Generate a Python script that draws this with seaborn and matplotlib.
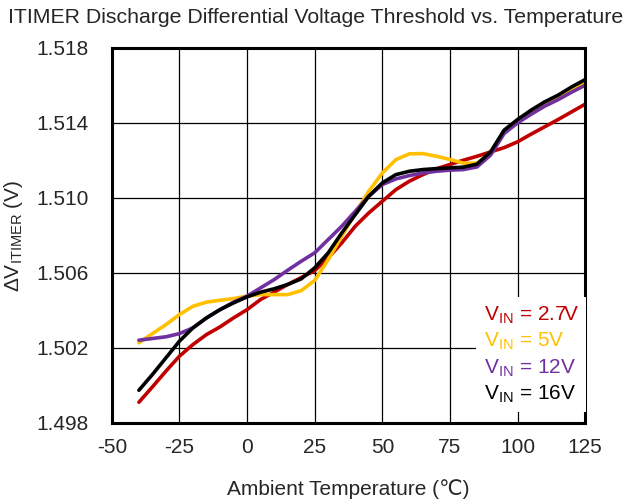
import matplotlib
matplotlib.use("Agg")
import matplotlib.pyplot as plt
import pandas as pd
import seaborn as sns

# Temperatures (°C)
temps = [-40, -35, -30, -25, -20, -15, -10, -5, 0, 5, 10, 15, 20, 25, 30, 35, 40,
         45, 50, 55, 60, 65, 70, 75, 80, 85, 90, 95, 100, 105, 110, 115, 120, 125]

v_2p7 = [1.49910, 1.49992, 1.50076, 1.50156, 1.50218, 1.50271, 1.50312, 1.50360,
         1.50404, 1.50458, 1.50497, 1.50538, 1.50575, 1.50612, 1.50680, 1.50760,
         1.50849, 1.50920, 1.50982, 1.51044, 1.51089, 1.51124, 1.51155, 1.51178,
         1.51201, 1.51222, 1.51245, 1.51268, 1.51299, 1.51340, 1.51379, 1.51418,
         1.51459, 1.51500]
v_5 = [1.50227, 1.50276, 1.50324, 1.50378, 1.50422, 1.50444, 1.50454, 1.50463,
       1.50476, 1.50484, 1.50484, 1.50484, 1.50505, 1.50560, 1.50671, 1.50796,
       1.50920, 1.51036, 1.51133, 1.51204, 1.51235, 1.51236, 1.51222, 1.51205,
       1.51185, 1.51185, 1.51236, 1.51357, 1.51414, 1.51459, 1.51503, 1.51539,
       1.51578, 1.51619]
v_12 = [1.50241, 1.50250, 1.50259, 1.50276, 1.50307, 1.50360, 1.50404, 1.50444,
        1.50476, 1.50520, 1.50564, 1.50614, 1.50662, 1.50707, 1.50778, 1.50849,
        1.50929, 1.51009, 1.51071, 1.51101, 1.51119, 1.51133, 1.51142, 1.51148,
        1.51151, 1.51165, 1.51228, 1.51343, 1.51400, 1.51446, 1.51489, 1.51524,
        1.51564, 1.51601]
v_16 = [1.49974, 1.50058, 1.50147, 1.50236, 1.50307, 1.50360, 1.50404, 1.50440,
        1.50472, 1.50497, 1.50515, 1.50538, 1.50568, 1.50627, 1.50707, 1.50813,
        1.50911, 1.51009, 1.51080, 1.51124, 1.51142, 1.51151, 1.51156, 1.51160,
        1.51164, 1.51180, 1.51245, 1.51361, 1.51418, 1.51468, 1.51512, 1.51548,
        1.51592, 1.51631]

series_names = ["2.7V", "5V", "12V", "16V"]
series_colors = ["#C00000", "#FFC000", "#7030A0", "#000000"]
x_ticks = [-50, -25, 0, 25, 50, 75, 100, 125]
y_ticks = [1.498, 1.502, 1.506, 1.510, 1.514, 1.518]

df = pd.concat([
    pd.DataFrame({"temp": temps, "v": vals, "vin": name})
    for name, vals in zip(series_names, [v_2p7, v_5, v_12, v_16])
])

sns.set_style("white")
plt.rcParams["font.family"] = ["Liberation Sans", "DejaVu Sans"]
plt.rcParams["mathtext.fontset"] = "custom"
plt.rcParams["mathtext.rm"] = "Liberation Sans"
plt.rcParams["mathtext.it"] = "Liberation Sans"
plt.rcParams["axes.unicode_minus"] = False

fig, ax = plt.subplots(figsize=(6.32, 5.04), dpi=100)
fig.subplots_adjust(left=0.177, right=0.926, bottom=0.161, top=0.905)

sns.lineplot(data=df, x="temp", y="v", hue="vin", hue_order=series_names,
             palette=series_colors, linewidth=2.6, ax=ax, legend=False)

ax.set_xlim(-50, 125)
ax.set_ylim(1.498, 1.518)
ax.set_xticks(x_ticks)
ax.set_yticks(y_ticks)
ax.set_yticklabels([f"{t:.3f}" for t in y_ticks])
ax.grid(True, color="black", linewidth=0.9)
ax.set_axisbelow(True)
ax.tick_params(length=0, labelsize=15)
ax.tick_params(axis="x", pad=11)
ax.tick_params(axis="y", pad=17)
for sp in ax.spines.values():
    sp.set_color("black")
    sp.set_linewidth(2.2)

ax.set_xlabel("Ambient Temperature (\u2103)", fontsize=15, labelpad=16)
ax.set_ylabel("\u0394V$_{\\rm ITIMER}$ (V)", fontsize=15, labelpad=8)
fig.text(0.5, 0.965, "ITIMER Discharge Differential Voltage Threshold vs. Temperature",
         ha="center", va="center", fontsize=15.3)

handles = ax.get_lines()[:4]
labels = [f"V$_{{\\rm IN}}$ = {n}" for n in series_names]
leg = ax.legend(handles, labels, loc="lower left", bbox_to_anchor=(0.748, 0.0),
                handlelength=0, handletextpad=0, labelcolor="linecolor",
                fontsize=15, frameon=True, facecolor="white", edgecolor="none",
                framealpha=1, labelspacing=0.25, borderpad=0.35, fancybox=False)
for h in leg.legend_handles:
    h.set_visible(False)

fig.savefig("out.png", dpi=100)
